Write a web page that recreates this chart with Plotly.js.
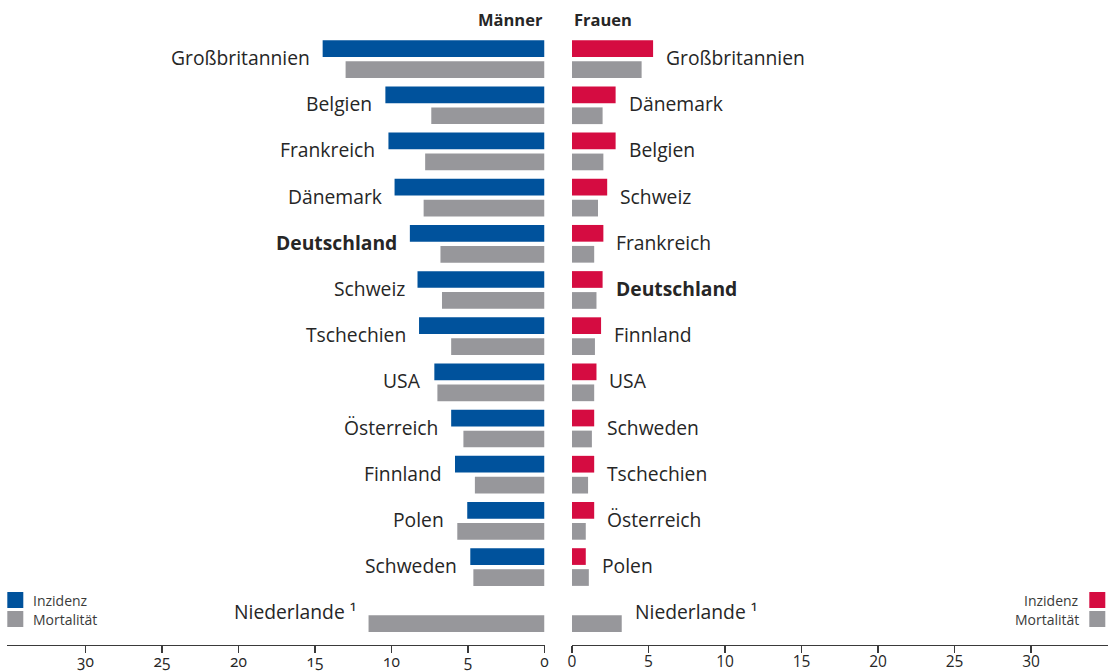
<!DOCTYPE html>
<html>
<head>
<meta charset="utf-8">
<script src="https://cdn.plot.ly/plotly-3.0.1.min.js"></script>
<style>
html,body{margin:0;padding:0;background:#fff;}
#chart{width:1116px;height:671px;}
.xtick text{font-variant-numeric:oldstyle-nums;font-feature-settings:"onum" 1;}
</style>
</head>
<body>
<div id="chart"></div>
<script>
// ---- data ----
const menCountries = ["Großbritannien","Belgien","Frankreich","Dänemark","Deutschland","Schweiz","Tschechien","USA","Österreich","Finnland","Polen","Schweden","Niederlande ¹"];
const menIncidence = [14.5,10.4,10.2,9.8,8.8,8.3,8.2,7.2,6.1,5.85,5.05,4.85,null];
const menMortality = [13.0,7.4,7.8,7.9,6.8,6.7,6.1,7.0,5.3,4.55,5.7,4.65,11.5];

const womenCountries = ["Großbritannien","Dänemark","Belgien","Schweiz","Frankreich","Deutschland","Finnland","USA","Schweden","Tschechien","Österreich","Polen","Niederlande ¹"];
const womenIncidence = [5.3,2.85,2.85,2.3,2.05,2.0,1.9,1.6,1.45,1.45,1.45,0.9,null];
const womenMortality = [4.55,2.0,2.05,1.7,1.45,1.6,1.5,1.45,1.3,1.05,0.9,1.1,3.25];

const tickValues = [0,5,10,15,20,25,30];
const tickLabels = ["0","5","10","15","20","25","30"];
const legendLabels = ["Inzidenz","Mortalität"];
const highlight = "Deutschland";

// ---- style ----
const BLUE = "#00529c", RED = "#d50c41", GREY = "#97979b", TXT = "#262626", AX = "#3a3a3a";
const FONT = "'Open Sans', Lato, sans-serif";
const W = 1116, H = 671, PX = 15.3;
const leftX0 = 7, leftX1 = 544.5, rightX0 = 572, rightX1 = 1108;
const yTop = 35.7, yBot = 645, rowPx = 46.2;
const barW = 0.362, offInz = -0.408, offMort = 0.046;
const plotH = yBot - yTop;
function py(p) { return (yBot - p) / plotH; } // pixel y -> paper y (plot area)

const pos = menCountries.map((_, i) => i);
const posW = womenCountries.map((_, i) => i);

function bar(xv, yv, color, xa, name) {
  return {type:"bar", orientation:"h", x:xv, y:yv, xaxis:xa, yaxis:"y",
    marker:{color:color, line:{width:0}}, width:barW,
    offset: name === "inz" ? offInz : offMort, hoverinfo:"x", showlegend:false};
}
const traces = [
  bar(menIncidence, pos, BLUE, "x", "inz"),
  bar(menMortality, pos, GREY, "x", "mort"),
  bar(womenIncidence, posW, RED, "x2", "inz"),
  bar(womenMortality, posW, GREY, "x2", "mort")
];

function lab(c) { return c === highlight ? "<b>" + c + "</b>" : c; }
const LBL = {family:FONT, size:19.3, color:TXT};
const annotations = [];
menCountries.forEach((c, i) => {
  const v = Math.max(menIncidence[i] || 0, menMortality[i] || 0);
  annotations.push({x:v, y:pos[i], xref:"x", yref:"y", text:lab(c), showarrow:false,
    xanchor:"right", yanchor:"middle", xshift:-11, yshift:1.5, font:LBL});
});
womenCountries.forEach((c, i) => {
  const v = Math.max(womenIncidence[i] || 0, womenMortality[i] || 0);
  annotations.push({x:v, y:posW[i], xref:"x2", yref:"y", text:lab(c), showarrow:false,
    xanchor:"left", yanchor:"middle", xshift:11, yshift:1.5, font:LBL});
});
// panel titles
annotations.push({x:leftX1/W, y:py(19), xref:"paper", yref:"paper", text:"<b>Männer</b>", showarrow:false,
  xanchor:"right", yanchor:"middle", font:{family:FONT, size:16.5, color:TXT}});
annotations.push({x:rightX0/W, y:py(19), xref:"paper", yref:"paper", text:"<b>Frauen</b>", showarrow:false,
  xanchor:"left", yanchor:"middle", font:{family:FONT, size:16.5, color:TXT}});
// legends
const shapes = [];
const legRows = [600, 619];
const legColsL = [BLUE, GREY], legColsR = [RED, GREY];
legRows.forEach((yc, k) => {
  shapes.push({type:"rect", xref:"paper", yref:"paper", x0:7.3/W, x1:23.3/W, y0:py(yc+8), y1:py(yc-8),
    fillcolor:legColsL[k], line:{width:0}});
  shapes.push({type:"rect", xref:"paper", yref:"paper", x0:1089.3/W, x1:1105.3/W, y0:py(yc+8), y1:py(yc-8),
    fillcolor:legColsR[k], line:{width:0}});
  annotations.push({x:30.5/W, y:py(yc), xref:"paper", yref:"paper", text:legendLabels[k], showarrow:false,
    xanchor:"left", yanchor:"middle", font:{family:FONT, size:14, color:"#3a3a3a"}});
  annotations.push({x:1080.5/W, y:py(yc), xref:"paper", yref:"paper", text:legendLabels[k], showarrow:false,
    xanchor:"right", yanchor:"middle", font:{family:FONT, size:14, color:"#3a3a3a"}});
});

const axCommon = {showgrid:false, zeroline:false, showline:true, linecolor:AX, linewidth:1.3,
  ticks:"outside", ticklen:7, tickwidth:1.3, tickcolor:AX, tickvals:tickValues, ticktext:tickLabels,
  ticklabelstandoff:-5,
  tickfont:{family:FONT, size:15.5, color:TXT}, fixedrange:true, anchor:"y"};

const layout = {
  width:W, height:H, margin:{l:0, r:0, t:yTop, b:H - yBot, pad:0}, paper_bgcolor:"#fff", plot_bgcolor:"rgba(0,0,0,0)",
  barmode:"overlay", showlegend:false,
  xaxis: Object.assign({}, axCommon, {domain:[leftX0/W, leftX1/W], range:[(leftX1-leftX0)/PX, 0]}),
  xaxis2: Object.assign({}, axCommon, {domain:[rightX0/W, rightX1/W], range:[0, (rightX1-rightX0)/PX]}),
  yaxis: {domain:[0, 1], range:[plotH/rowPx - 0.5, -0.5],
    showgrid:false, zeroline:false, showline:false, showticklabels:false, ticks:"", fixedrange:true},
  annotations:annotations, shapes:shapes, font:{family:FONT, color:TXT}
};

Plotly.newPlot("chart", traces, layout, {displayModeBar:false, staticPlot:true});
</script>
</body>
</html>
